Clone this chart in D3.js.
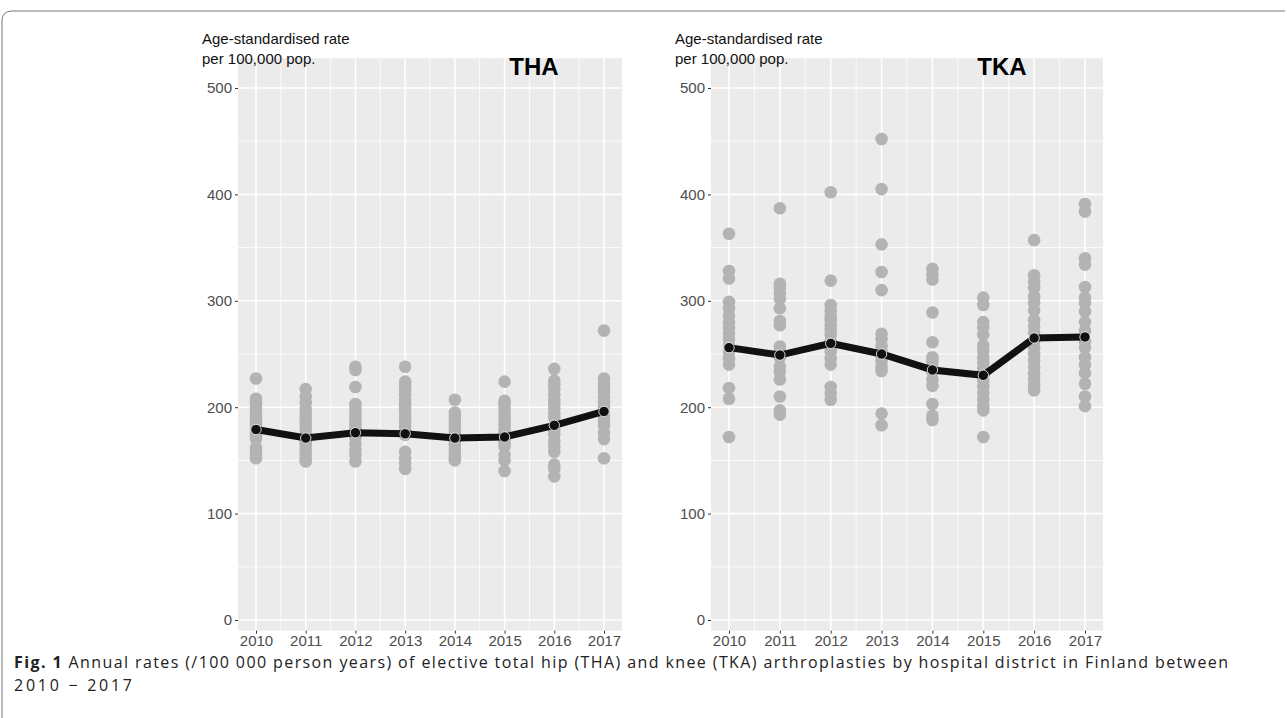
<!DOCTYPE html>
<html><head><meta charset="utf-8">
<script src="https://cdn.jsdelivr.net/npm/d3@7"></script>
<style>body{margin:0;background:#fff;font-family:"Liberation Sans",Arial,sans-serif}</style>
</head><body><svg id="c" width="1287" height="718"></svg>
<script>
const years = [2010, 2011, 2012, 2013, 2014, 2015, 2016, 2017];
const yTicks = [0, 100, 200, 300, 400, 500];
const thaDots = [
  [227, 208, 204, 200, 197, 193, 190, 187, 184, 181, 178, 176, 173, 170, 162, 158, 155, 152],
  [217, 210, 204, 198, 194, 190, 186, 182, 178, 174, 170, 167, 164, 160, 156, 152, 149],
  [238, 235, 219, 203, 199, 195, 191, 187, 184, 180, 176, 171, 166, 160, 155, 149],
  [238, 224, 220, 216, 212, 207, 203, 199, 195, 190, 186, 182, 178, 174, 158, 152, 147, 142],
  [207, 195, 192, 189, 186, 182, 178, 175, 171, 168, 165, 161, 157, 153, 150],
  [224, 206, 203, 199, 195, 191, 187, 183, 179, 176, 172, 167, 163, 155, 150, 140],
  [236, 225, 221, 217, 212, 207, 203, 199, 194, 190, 182, 178, 174, 168, 163, 158, 146, 142, 135],
  [272, 227, 222, 218, 214, 209, 205, 200, 196, 192, 187, 183, 176, 170, 152]
];
const tkaDots = [
  [363, 328, 321, 299, 293, 286, 280, 275, 269, 264, 258, 252, 246, 240, 218, 208, 172],
  [387, 316, 312, 307, 302, 293, 281, 277, 257, 252, 247, 238, 233, 226, 210, 197, 193],
  [402, 319, 296, 291, 286, 282, 277, 273, 268, 262, 256, 252, 246, 240, 219, 213, 207],
  [452, 405, 353, 327, 310, 269, 264, 258, 253, 248, 243, 238, 234, 194, 183],
  [330, 325, 320, 289, 261, 247, 243, 238, 233, 226, 220, 203, 192, 188],
  [303, 296, 280, 275, 268, 258, 253, 247, 242, 236, 230, 225, 219, 213, 207, 201, 197, 172],
  [357, 324, 318, 312, 304, 298, 291, 282, 276, 270, 262, 256, 250, 244, 238, 232, 226, 221, 216],
  [391, 384, 340, 334, 313, 303, 298, 290, 280, 272, 262, 256, 247, 240, 232, 222, 210, 201]
];
const thaMean = [179, 171, 176, 175, 171, 172, 183, 196];
const tkaMean = [256, 249, 260, 250, 235, 230, 265, 266];

const svg = d3.select('#c');

// figure frame
svg.append('path').attr('d', 'M1285,11 H12 Q2,11 2,21 V718').attr('fill', 'none').attr('stroke', '#777').attr('stroke-width', 1);

const y = d3.scaleLinear().domain([0, 500]).range([620, 88]);
const yLo = -10, yHi = 528;

function panel(x0, x1, title, titleX, dots, mean) {
  const x = d3.scalePoint().domain(years).range([x0 + 18, x1 - 18]);
  const g = svg.append('g');
  g.append('rect').attr('x', x0).attr('y', y(yHi)).attr('width', x1 - x0).attr('height', y(yLo) - y(yHi)).attr('fill', '#ebebeb');
  const minor = d3.range(50, 550, 100);
  g.selectAll('.hm').data(minor).join('line').attr('x1', x0).attr('x2', x1).attr('y1', d => y(d)).attr('y2', d => y(d)).attr('stroke', '#fff').attr('stroke-width', 0.8);
  const step = x.step();
  const vmin = [x(years[0]) - step / 2].concat(years.map(d => x(d) + step / 2));
  g.selectAll('.vm').data(vmin).join('line').attr('x1', d => d).attr('x2', d => d).attr('y1', y(yHi)).attr('y2', y(yLo)).attr('stroke', '#fff').attr('stroke-width', 0.8);
  g.selectAll('.hM').data(yTicks).join('line').attr('x1', x0).attr('x2', x1).attr('y1', d => y(d)).attr('y2', d => y(d)).attr('stroke', '#fff').attr('stroke-width', 1.6);
  g.selectAll('.vM').data(years).join('line').attr('x1', d => x(d)).attr('x2', d => x(d)).attr('y1', y(yHi)).attr('y2', y(yLo)).attr('stroke', '#fff').attr('stroke-width', 1.6);

  const pts = [];
  dots.forEach((arr, i) => arr.forEach(v => pts.push([years[i], v])));
  g.selectAll('.d').data(pts).join('circle').attr('cx', d => x(d[0])).attr('cy', d => y(d[1])).attr('r', 6.3).attr('fill', '#b3b3b3');

  const line = d3.line().x((d, i) => x(years[i])).y(d => y(d));
  g.append('path').attr('d', line(mean)).attr('fill', 'none').attr('stroke', '#111').attr('stroke-width', 7);
  g.selectAll('.m').data(mean).join('circle').attr('cx', (d, i) => x(years[i])).attr('cy', d => y(d)).attr('r', 5.2).attr('fill', '#111').attr('stroke', '#fff').attr('stroke-width', 0.8);

  const ya = g.append('g').attr('transform', `translate(${x0},0)`)
    .call(d3.axisLeft(y).tickValues(yTicks).tickSize(3).tickPadding(3));
  ya.select('.domain').remove();
  ya.selectAll('line').attr('stroke', '#333');
  ya.selectAll('text').attr('fill', '#4d4d4d').style('font-size', '15px').style('font-family', 'Liberation Sans, Arial');
  const xa = g.append('g').attr('transform', `translate(0,${y(yLo)})`)
    .call(d3.axisBottom(x).tickSize(3).tickPadding(2).tickFormat(d3.format('d')));
  xa.select('.domain').remove();
  xa.selectAll('line').attr('stroke', '#333');
  xa.selectAll('text').attr('fill', '#4d4d4d').style('font-size', '15px').style('font-family', 'Liberation Sans, Arial');

  g.append('text').attr('x', x0 - 36).attr('y', 44).attr('font-size', 15).attr('fill', '#111').text('Age-standardised rate');
  g.append('text').attr('x', x0 - 36).attr('y', 64).attr('font-size', 15).attr('fill', '#111').text('per 100,000 pop.');
  g.append('text').attr('x', titleX).attr('y', 75).attr('font-size', 24).attr('font-weight', 'bold').attr('text-anchor', 'middle').attr('fill', '#000').text(title);
}

panel(238, 622, 'THA', 534, thaDots, thaMean);
panel(711, 1103, 'TKA', 1002, tkaDots, tkaMean);

const cap = svg.append('text').attr('x', 14).attr('y', 668).attr('font-size', 16).attr('fill', '#222')
  .attr('textLength', 1214).attr('lengthAdjust', 'spacing').style('font-family', 'Open Sans, sans-serif');
cap.append('tspan').attr('font-weight', 'bold').text('Fig. 1');
cap.append('tspan').text('  Annual rates (/100 000 person years) of elective total hip (THA) and knee (TKA) arthroplasties by hospital district in Finland between');
svg.append('text').attr('x', 14).attr('y', 691).attr('font-size', 16).attr('fill', '#222')
  .attr('textLength', 118).style('font-family', 'Open Sans, sans-serif').text('2010 \u2212 2017');
</script></body></html>
